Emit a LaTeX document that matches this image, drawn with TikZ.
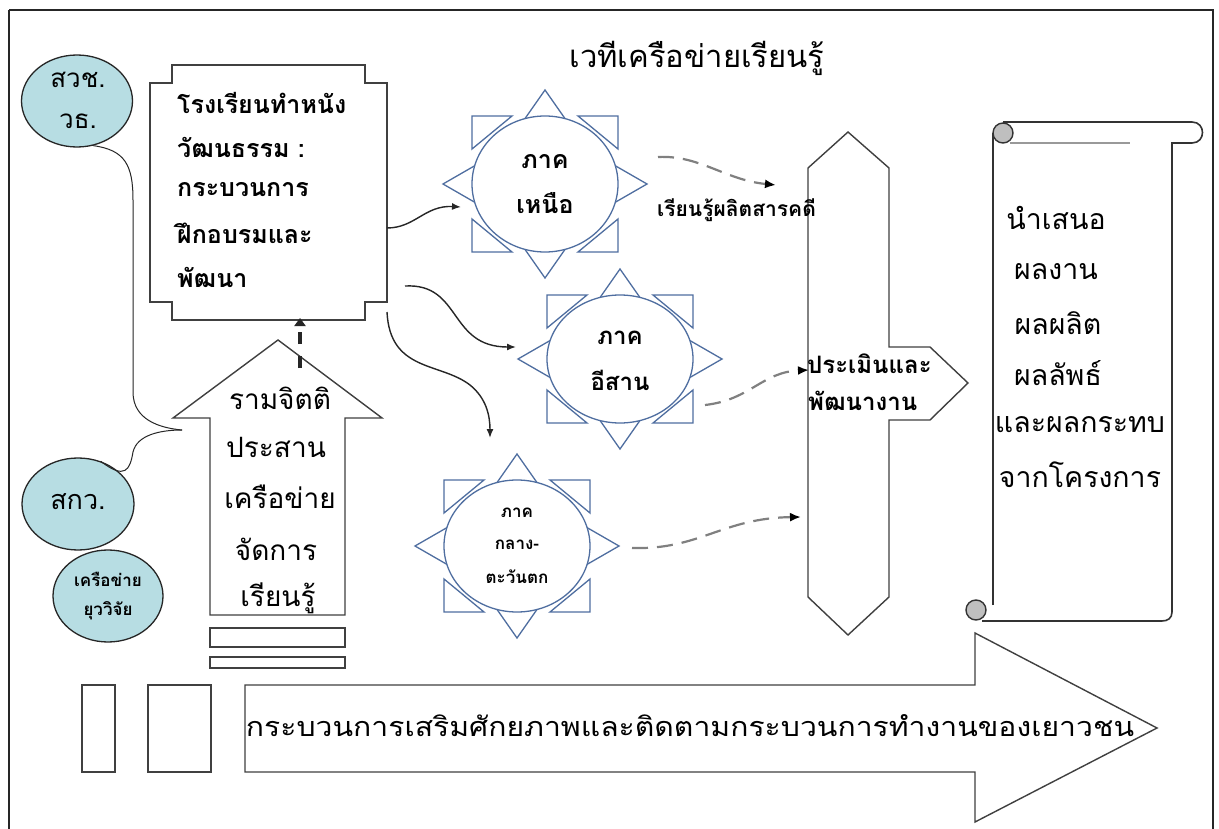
\documentclass[tikz,border=0pt]{standalone}
\usepackage{fontspec}
\newfontfamily\thai[Script=Thai]{Loma}
\usetikzlibrary{shapes.geometric,arrows.meta,calc}
\definecolor{pale}{RGB}{183,221,227}
\definecolor{sunline}{RGB}{79,110,160}
\tikzset{
  frameline/.style={line width=1.3pt, draw=black!85},
  shapeline/.style={line width=1.4pt, draw=black!75, fill=white},
  bubble/.style={ellipse, draw=black!85, line width=1.3pt, fill=pale, inner sep=0pt},
  ray/.style={draw=sunline, line width=1.3pt, fill=white},
  sunbody/.style={ellipse, draw=sunline, line width=1.3pt, fill=white, inner sep=0pt, align=center},
  conn/.style={line width=1.4pt, black!85, -{Latex[length=9pt,width=7pt]}},
  dconn/.style={line width=2.2pt, black!50, dash pattern=on 16pt off 9pt, -{Latex[length=11pt,width=9pt,black]}},
  thin/.style={line width=1pt, black!85},
  txt/.style={inner sep=0pt, font=\thai\fontsize{#1}{#1}\selectfont},
  btxt/.style={inner sep=0pt, font=\thai\bfseries\fontsize{#1}{#1}\selectfont},
}
\newcommand\sunrays[4]{%
  \draw[ray] (#1-21,#2-#4+4) -- (#1,#2-#4-26) -- (#1+21,#2-#4+4) -- cycle;
  \draw[ray] (#1-21,#2+#4-4) -- (#1,#2+#4+26) -- (#1+21,#2+#4-4) -- cycle;
  \draw[ray] (#1-#3+4,#2-19) -- (#1-#3-29,#2) -- (#1-#3+4,#2+19) -- cycle;
  \draw[ray] (#1+#3-4,#2-19) -- (#1+#3+29,#2) -- (#1+#3-4,#2+19) -- cycle;
  \draw[ray] (#1-#3,#2-#4) -- (#1-#3+40,#2-#4) -- (#1-#3,#2-#4+33) -- cycle;
  \draw[ray] (#1+#3,#2-#4) -- (#1+#3-40,#2-#4) -- (#1+#3,#2-#4+33) -- cycle;
  \draw[ray] (#1-#3,#2+#4) -- (#1-#3+40,#2+#4) -- (#1-#3,#2+#4-33) -- cycle;
  \draw[ray] (#1+#3,#2+#4) -- (#1+#3-40,#2+#4) -- (#1+#3,#2+#4-33) -- cycle;
}
\begin{document}
\begin{tikzpicture}[x=1pt,y=-1pt]
\useasboundingbox (0,0) rectangle (1219,829);
\fill[white] (0,0) rectangle (1219,829);
% page frame
\draw[frameline] (9,10) -- (1213,10) -- (1213,840);
\draw[frameline] (9,10) -- (9,840);

% title
\node[txt=31] (title) at (697,58) {เวทีเครือข่ายเรียนรู้};

% main plaque box
\draw[shapeline] (172,65) -- (365,65) -- (365,83) -- (387,83) -- (387,302) -- (365,302) -- (365,320) -- (172,320) -- (172,302) -- (150,302) -- (150,83) -- (172,83) -- cycle;
\coordinate (boxA) at (387,228);
\coordinate (boxB) at (405,286);
\coordinate (boxC) at (387,312);
\coordinate (boxBot) at (300,318);
\node[btxt=25, anchor=west] (b1) at (177,103) {โรงเรียนทำหนัง};
\node[btxt=25, anchor=west] (b2) at (177,147) {วัฒนธรรม :};
\node[btxt=25, anchor=west] (b3) at (177,190) {กระบวนการ};
\node[btxt=25, anchor=west] (b4) at (177,233) {ฝึกอบรมและ};
\node[btxt=25, anchor=west] (b5) at (177,277) {พัฒนา};

% up arrow
\draw[shapeline] (278,340) -- (382,418) -- (345,418) -- (345,615) -- (210,615) -- (210,418) -- (173,418) -- cycle;
\draw[shapeline] (210,628) rectangle (345,647);
\draw[shapeline] (210,657) rectangle (345,668);
\coordinate (upTip) at (300,368);
\coordinate (upLeft) at (182,430);
\node[txt=28] (u1) at (280,398) {รามจิตติ};
\node[txt=28] (u2) at (276,447) {ประสาน};
\node[txt=28] (u3) at (280,497) {เครือข่าย};
\node[txt=28] (u4) at (276,549) {จัดการ};
\node[txt=28] (u5) at (278,598) {เรียนรู้};
\draw[line width=4.5pt, black!85, dash pattern=on 12pt off 12pt, -{Triangle[length=8pt,width=11pt]}] (upTip) -- (boxBot);

% bubbles
\node[bubble, minimum width=111pt, minimum height=92pt] (svch) at (77,101) {};
\node[txt=26] (svch1) at (78,80) {สวช.};
\node[txt=26] (svch2) at (78,121) {วธ.};
\node[bubble, minimum width=112pt, minimum height=92pt] (skw) at (78,504) {};
\node[txt=27] (skw1) at (78,502) {สกว.};
\node[bubble, minimum width=110pt, minimum height=92pt, align=center] (yuw) at (108,596) {};
\node[btxt=17] (yuw1) at (108,579) {เครือข่าย};
\node[btxt=17] (yuw2) at (108,611) {ยุววิจัย};
\draw[thin] (svch.-70) .. controls (125,150) and (133,165) .. (133,200) -- (133,392) .. controls (133,420) and (160,428) .. (upLeft);
\draw[thin] (skw.62) .. controls (125,480) and (130,470) .. (133,452) .. controls (137,435) and (160,430) .. (upLeft);

% suns
\sunrays{545}{184}{73}{68}
\node[sunbody, minimum width=146pt, minimum height=136pt] (north) at (545,184) {};
\node[btxt=25] (n1) at (545,162) {ภาค};
\node[btxt=25] (n2) at (545,203) {เหนือ};

\sunrays{620}{359}{73}{64}
\node[sunbody, minimum width=146pt, minimum height=128pt] (isan) at (620,359) {};
\node[btxt=24] (i1) at (620,338) {ภาค};
\node[btxt=24] (i2) at (620,380) {อีสาน};

\sunrays{517}{546}{73}{66}
\node[sunbody, minimum width=146pt, minimum height=132pt] (central) at (517,546) {};
\node[btxt=17] (c1) at (517,513) {ภาค};
\node[btxt=17] (c2) at (517,545) {กลาง-};
\node[btxt=17] (c3) at (517,577) {ตะวันตก};

% curved connectors from box to suns
\coordinate (nIn) at (461,207);
\coordinate (iIn) at (516,347);
\coordinate (cIn) at (490,438);
\draw[conn] (boxA) .. controls (415,228) and (425,205) .. (nIn);
\draw[conn] (boxB) .. controls (462,283) and (448,347) .. (iIn);
\draw[conn] (boxC) .. controls (390,372) and (440,362) .. (470,385) .. controls (486,398) and (490,415) .. (cIn);

% column
\draw[shapeline] (848,132) -- (889,168) -- (889,347) -- (930,347) -- (968,383) -- (930,420) -- (889,420) -- (889,597) -- (848,635) -- (808,597) -- (808,168) -- cycle;
\node[btxt=24, anchor=west] (ev1) at (807,364) {ประเมินและ};
\node[btxt=24, anchor=west] (ev2) at (808,401) {พัฒนางาน};

% dashed connectors
\coordinate (d1s) at (658,157);
\coordinate (d1e) at (776,185);
\coordinate (d2s) at (705,405);
\coordinate (d2e) at (809,370);
\coordinate (d3s) at (632,548);
\coordinate (d3e) at (801,517);
\draw[dconn] (d1s) .. controls (700,155) and (725,180) .. (d1e);
\draw[dconn] (d2s) .. controls (750,400) and (762,372) .. (d2e);
\draw[dconn] (d3s) .. controls (700,550) and (722,518) .. (d3e);
\node[btxt=21, anchor=west] (lrn) at (657,210) {เรียนรู้ผลิตสารคดี};

% scroll
\draw[line width=1.6pt, black!80] (993,605) -- (993,133);
\draw[line width=1.6pt, black!80] (1003,122) -- (1192,122) .. controls (1206,122) and (1206,143) .. (1192,143) -- (1172,143) -- (1172,612) .. controls (1172,618) and (1168,621) .. (1162,621) -- (982,621);
\draw[line width=1.4pt, black!80, fill=black!25] (1003,133) circle (10);
\draw[line width=1.4pt, black!80, fill=black!25] (976,610) circle (10);
\draw[line width=2.5pt, black!40] (1010,143) -- (1130,143);
\node[txt=28.5] (s1) at (1056,218) {นำเสนอ};
\node[txt=28.5] (s2) at (1056,272) {ผลงาน};
\node[txt=28.5] (s3) at (1058,323) {ผลผลิต};
\node[txt=28.5] (s4) at (1058,373) {ผลลัพธ์};
\node[txt=28.5] (s5) at (1080,425) {และผลกระทบ};
\node[txt=28.5] (s6) at (1080,475) {จากโครงการ};

% bottom arrow
\draw[shapeline] (82,685) rectangle (115,772);
\draw[shapeline] (148,685) rectangle (211,772);
\draw[shapeline] (245,685) -- (975,685) -- (975,633) -- (1157,728) -- (975,822) -- (975,772) -- (245,772) -- cycle;
\node[txt=27] (bottomtxt) at (690,726) {\resizebox{888pt}{\height}{กระบวนการเสริมศักยภาพและติดตามกระบวนการทำงานของเยาวชน}};
\end{tikzpicture}
\end{document}
